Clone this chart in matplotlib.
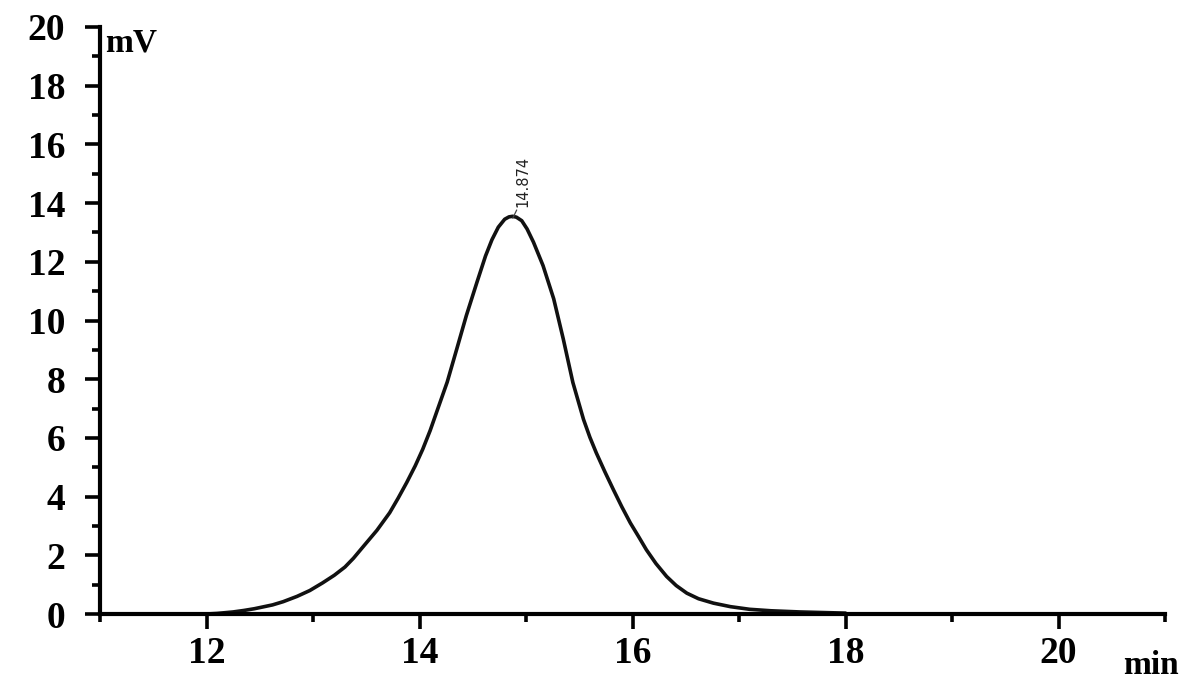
import matplotlib
matplotlib.use("Agg")
import matplotlib.pyplot as plt
from matplotlib.ticker import MultipleLocator

# ---- data ----
time_min = [12.0, 12.1, 12.25, 12.35, 12.45, 12.62, 12.72, 12.85, 12.97, 13.09,
            13.20, 13.30, 13.38, 13.47, 13.60, 13.72, 13.80, 13.88, 13.96, 14.03,
            14.10, 14.16, 14.26, 14.35, 14.44, 14.54, 14.62, 14.68, 14.74, 14.80,
            14.84, 14.874, 14.91, 14.96, 15.01, 15.07, 15.16, 15.26, 15.35, 15.44,
            15.54, 15.60, 15.66, 15.74, 15.82, 15.90, 15.98, 16.06, 16.13, 16.22,
            16.32, 16.41, 16.51, 16.62, 16.76, 16.92, 17.10, 17.30, 17.57, 18.0]
signal_mv = [0.0, 0.02, 0.07, 0.12, 0.18, 0.31, 0.42, 0.60, 0.80, 1.06,
             1.32, 1.60, 1.90, 2.29, 2.85, 3.45, 3.95, 4.48, 5.05, 5.61,
             6.25, 6.87, 7.90, 9.03, 10.17, 11.31, 12.20, 12.75, 13.18, 13.45,
             13.53, 13.55, 13.52, 13.40, 13.12, 12.67, 11.87, 10.74, 9.37, 7.89,
             6.63, 6.02, 5.49, 4.85, 4.24, 3.65, 3.10, 2.62, 2.19, 1.72,
             1.28, 0.97, 0.71, 0.52, 0.37, 0.25, 0.16, 0.11, 0.07, 0.03]
peak_time = 14.874
peak_height = 13.55
peak_label = "14.874"

x_ticks = [12, 14, 16, 18, 20]
y_ticks = [0, 2, 4, 6, 8, 10, 12, 14, 16, 18, 20]

fig = plt.figure(figsize=(12, 6.89), dpi=100)
ax = fig.add_axes([100 / 1200, 1 - 614 / 689, 1065 / 1200, 587 / 689])

ax.plot(time_min, signal_mv, color="#111111", lw=2.6,
        solid_capstyle="round", solid_joinstyle="round")

ax.set_xlim(11, 21)
ax.set_ylim(0, 20)
ax.set_xticks(x_ticks)
ax.set_yticks(y_ticks)
ax.xaxis.set_minor_locator(MultipleLocator(1))
ax.yaxis.set_minor_locator(MultipleLocator(1))

for s in ["top", "right"]:
    ax.spines[s].set_visible(False)
for s in ["left", "bottom"]:
    ax.spines[s].set_linewidth(3.0)
    ax.spines[s].set_color("black")
    ax.spines[s].set_capstyle("projecting")

serif_fam = ["Liberation Serif", "DejaVu Serif"]
ax.tick_params(axis="both", which="major", direction="out", length=11, width=2.6,
               color="black")
ax.tick_params(axis="both", which="minor", direction="out", length=6, width=2.6,
               color="black")
ax.tick_params(axis="x", which="major", pad=5)
ax.tick_params(axis="y", which="major", pad=14)
for lab in ax.get_xticklabels() + ax.get_yticklabels():
    lab.set_fontfamily(serif_fam)
    lab.set_fontweight("bold")
    lab.set_fontsize(27)

# axis unit labels
ax.text(0.005, 0.972, "mV", transform=ax.transAxes, ha="left", va="center",
        fontsize=24, family=serif_fam, weight="bold")
ax.text(0.987, -0.087, "min", transform=ax.transAxes, ha="center", va="center",
        fontsize=24, family=serif_fam, weight="bold")

# peak annotation
ax.annotate("", xy=(peak_time - 0.01, peak_height - 0.15),
            xytext=(peak_time + 0.05, peak_height + 0.3),
            arrowprops=dict(arrowstyle="-", lw=0.9, color="#444444"))
ax.text(peak_time + 0.03, peak_height + 0.32, peak_label, rotation=90,
        ha="left", va="bottom", fontsize=10.5, color="#222222",
        family=["Liberation Sans Narrow", "DejaVu Sans"])

fig.savefig("out.png", dpi=100, facecolor="white")
